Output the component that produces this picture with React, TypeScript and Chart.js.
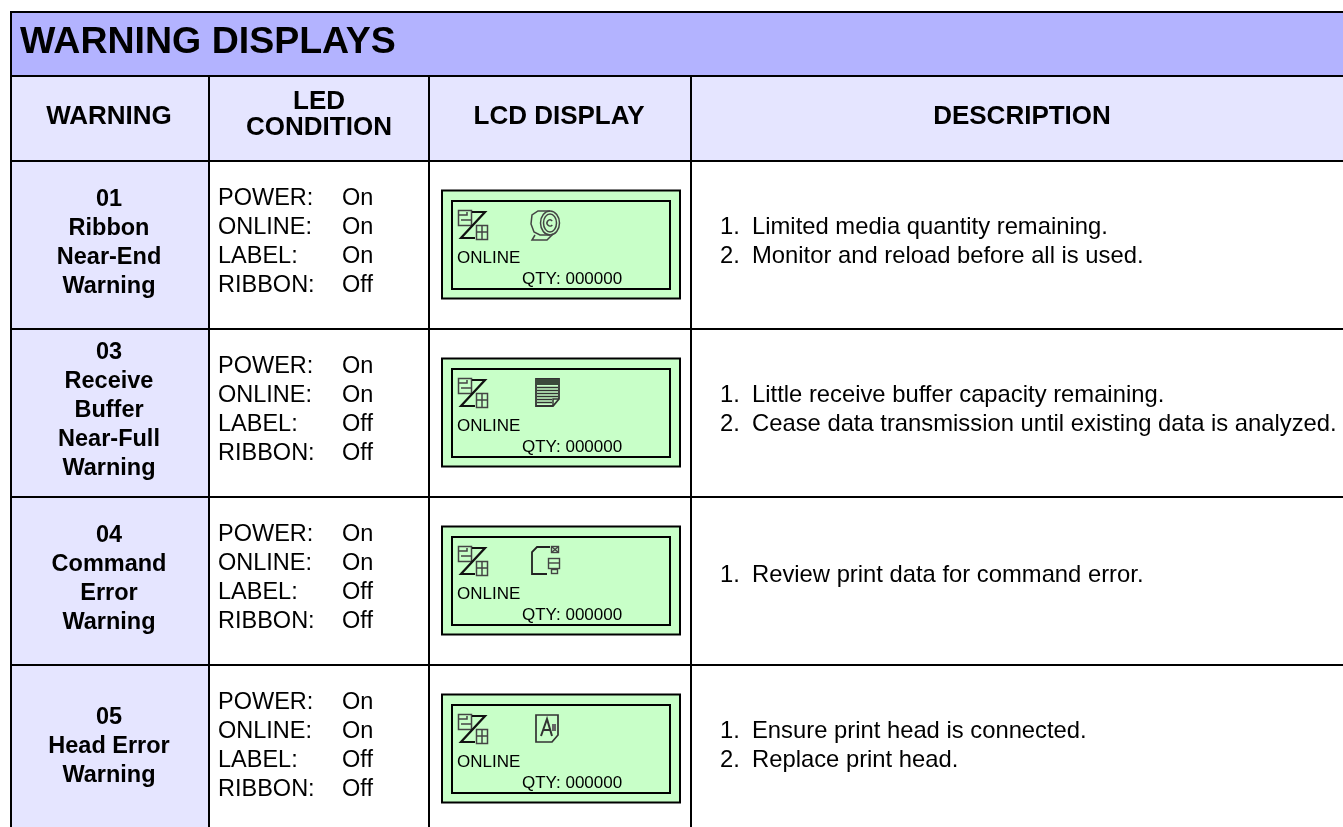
import React, { useEffect, useRef } from "react";
import { Chart, registerables } from "chart.js";

Chart.register(...registerables);

const W = 1343;
const H = 827;
const FONT = '"Liberation Sans", Arial, sans-serif';

const title = "WARNING DISPLAYS";
const columnHeaders = [["WARNING"], ["LED", "CONDITION"], ["LCD DISPLAY"], ["DESCRIPTION"]];
const warningLabels = [
  ["01", "Ribbon", "Near-End", "Warning"],
  ["03", "Receive", "Buffer", "Near-Full", "Warning"],
  ["04", "Command", "Error", "Warning"],
  ["05", "Head Error", "Warning"],
];
const ledNames = ["POWER:", "ONLINE:", "LABEL:", "RIBBON:"];
const ledStates = [
  ["On", "On", "On", "Off"],
  ["On", "On", "Off", "Off"],
  ["On", "On", "Off", "Off"],
  ["On", "On", "Off", "Off"],
];
const lcdStatus = "ONLINE";
const lcdQty = "QTY: 000000";
const descriptions = [
  ["Limited media quantity remaining.", "Monitor and reload before all is used."],
  ["Little receive buffer capacity remaining.", "Cease data transmission until existing data is analyzed."],
  ["Review print data for command error."],
  ["Ensure print head is connected.", "Replace print head."],
];
const rowLines = [160, 328, 496, 664, 832];
const columnLines = [10, 208, 428, 690, 1343];

type C = CanvasRenderingContext2D;

function line(ctx: C, pts: number[][], close = false) {
  ctx.beginPath();
  pts.forEach((p, i) => (i ? ctx.lineTo(p[0], p[1]) : ctx.moveTo(p[0], p[1])));
  if (close) ctx.closePath();
  ctx.stroke();
}

function commonIcon(ctx: C, x: number, y: number) {
  ctx.save();
  ctx.translate(x, y);
  ctx.strokeStyle = "#444";
  ctx.lineWidth = 1.5;
  ctx.strokeRect(0.5, 0.5, 13, 15);
  line(ctx, [[0.5, 5], [9, 5], [9, 2]]);
  line(ctx, [[3, 10], [13, 10]]);
  ctx.strokeRect(18.5, 15.5, 11, 14);
  line(ctx, [[24, 15], [24, 30]]);
  line(ctx, [[18, 22], [30, 22]]);
  ctx.strokeStyle = "#111";
  ctx.lineWidth = 2.2;
  line(ctx, [[14, 2], [27, 2], [3, 28], [17, 28]]);
  ctx.restore();
}

function rollIcon(ctx: C, x: number, y: number) {
  ctx.save();
  ctx.translate(x, y);
  ctx.strokeStyle = "#444";
  ctx.lineWidth = 1.5;
  ctx.beginPath();
  ctx.ellipse(20, 13, 9.5, 12, 0, 0, Math.PI * 2);
  ctx.stroke();
  ctx.beginPath();
  ctx.ellipse(20, 13, 6.5, 9, 0, 0, Math.PI * 2);
  ctx.stroke();
  line(ctx, [[20, 1], [8, 1], [2, 5], [1, 14], [4, 22], [10, 25], [20, 25]]);
  line(ctx, [[5, 25], [2, 30], [17, 30], [23, 24]]);
  ctx.beginPath();
  ctx.arc(20, 13, 3, 0.7, Math.PI * 2 - 0.7);
  ctx.stroke();
  ctx.restore();
}

function bufferIcon(ctx: C, x: number, y: number) {
  ctx.save();
  ctx.translate(x, y);
  ctx.strokeStyle = "#333";
  ctx.lineWidth = 1.8;
  line(ctx, [[1, 1], [24, 1], [24, 21], [18, 28], [1, 28]], true);
  ctx.fillStyle = "#3b4a3b";
  ctx.fillRect(1, 1, 23, 6);
  ctx.lineWidth = 1.5;
  [9.5, 12.5, 15.5, 18.5, 21.5, 24.5].forEach((v) => line(ctx, [[2, v], [v > 20 ? 17 : 23, v]]));
  line(ctx, [[18, 28], [18, 21], [24, 21]]);
  ctx.restore();
}

function commandIcon(ctx: C, x: number, y: number) {
  ctx.save();
  ctx.translate(x, y);
  ctx.strokeStyle = "#222";
  ctx.lineWidth = 1.8;
  line(ctx, [[19, 1], [6, 1], [1, 6], [1, 28], [16, 28]]);
  ctx.lineWidth = 1.4;
  ctx.strokeStyle = "#444";
  ctx.strokeRect(20.5, 0.5, 7, 6);
  line(ctx, [[20.5, 0.5], [27.5, 6.5]]);
  line(ctx, [[27.5, 0.5], [20.5, 6.5]]);
  ctx.strokeRect(17.5, 12.5, 11, 10);
  line(ctx, [[17, 17], [28, 17]]);
  ctx.strokeRect(20.5, 23.5, 6, 4);
  ctx.restore();
}

function headIcon(ctx: C, x: number, y: number) {
  ctx.save();
  ctx.translate(x, y);
  ctx.strokeStyle = "#333";
  ctx.lineWidth = 1.7;
  line(ctx, [[1, 1], [23, 1], [23, 21], [17, 28], [1, 28]], true);
  ctx.lineWidth = 2;
  line(ctx, [[6, 22], [12, 5], [17, 22]]);
  line(ctx, [[8, 16], [15, 16]]);
  ctx.fillStyle = "#666";
  ctx.fillRect(17, 10, 4, 7);
  ctx.restore();
}

const statusIcons = [rollIcon, bufferIcon, commandIcon, headIcon];
const statusIconOffsets = [89, 94, 90, 94];

const tablePlugin = {
  id: "warningTable",
  beforeDatasetsDraw(chart: Chart) {
    const ctx = chart.ctx as C;
    const sx = chart.scales.x;
    const sy = chart.scales.y;
    const X = (v: number) => sx.getPixelForValue(v);
    const Y = (v: number) => sy.getPixelForValue(v);

    const text = (s: string, x: number, y: number, font: string, align: CanvasTextAlign = "left") => {
      ctx.font = font;
      ctx.textAlign = align;
      ctx.textBaseline = "alphabetic";
      ctx.fillStyle = "#000";
      ctx.fillText(s, X(x), Y(y));
    };

    ctx.save();
    ctx.fillStyle = "#fff";
    ctx.fillRect(0, 0, W, H);

    // backgrounds
    ctx.fillStyle = "#b3b3ff";
    ctx.fillRect(X(10), Y(11), W - 10, 65);
    ctx.fillStyle = "#e5e5ff";
    ctx.fillRect(X(10), Y(76), W - 10, 85);
    ctx.fillRect(X(10), Y(161), 199, H - 161);

    // title and headers
    text(title, 20, 53, `bold 37.5px ${FONT}`);
    const centers = [109, 319, 559, 1022];
    columnHeaders.forEach((lines, i) => {
      const font = `bold 26px ${FONT}`;
      if (lines.length === 1) text(lines[0], centers[i], 124, font, "center");
      else lines.forEach((l, j) => text(l, centers[i], 109 + j * 26, font, "center"));
    });

    // rows
    warningLabels.forEach((lines, r) => {
      const top = rowLines[r];
      const mid = top + 84;
      const lh = 29;
      const start = mid - ((lines.length - 1) * lh) / 2 + 5;
      lines.forEach((l, j) => text(l, 109, start + j * lh, `bold 23.5px ${FONT}`, "center"));

      ledNames.forEach((n, j) => {
        text(n, 218, top + 45 + j * 29, `23.5px ${FONT}`);
        text(ledStates[r][j], 342, top + 45 + j * 29, `23.5px ${FONT}`);
      });

      const lx = 442;
      const ly = top + 30.5;
      ctx.fillStyle = "#c8ffc8";
      ctx.fillRect(X(lx), Y(ly), 238, 108);
      ctx.strokeStyle = "#000";
      ctx.lineWidth = 2;
      ctx.strokeRect(X(lx), Y(ly), 238, 108);
      ctx.strokeRect(X(lx + 10), Y(ly + 10.5), 218, 88);
      commonIcon(ctx, X(458), Y(top + 50));
      statusIcons[r](ctx, X(441 + statusIconOffsets[r]), Y(top + 50));
      text(lcdStatus, 457, top + 103, `17px ${FONT}`);
      text(lcdQty, 522, top + 124, `17px ${FONT}`);

      const d = descriptions[r];
      const dy = d.length === 2 ? top + 74 : top + 86;
      d.forEach((l, j) => {
        text(`${j + 1}.`, 720, dy + j * 29, `23.8px ${FONT}`);
        text(l, 752, dy + j * 29, `23.8px ${FONT}`);
      });
    });

    // grid
    ctx.fillStyle = "#000";
    [11, 75, 160].forEach((v) => ctx.fillRect(X(10), Y(v), W - 10, 2));
    rowLines.slice(1, 4).forEach((v) => ctx.fillRect(X(10), Y(v), W - 10, 2));
    ctx.fillRect(X(columnLines[0]), Y(11), 2, H - 11);
    columnLines.slice(1, 4).forEach((v) => ctx.fillRect(X(v), Y(75), 2, H - 75));
    ctx.restore();
  },
};

export default function App() {
  const ref = useRef<HTMLCanvasElement>(null);
  useEffect(() => {
    const chart = new Chart(ref.current as HTMLCanvasElement, {
      type: "scatter",
      data: {
        datasets: [
          {
            label: "rows",
            data: rowLines.map((y) => ({ x: columnLines[0], y })),
            pointRadius: 0,
          },
        ],
      },
      options: {
        animation: false,
        responsive: false,
        layout: { padding: 0 },
        plugins: { legend: { display: false }, tooltip: { enabled: false } },
        scales: {
          x: { type: "linear", min: 0, max: W, display: false },
          y: { type: "linear", min: 0, max: H, reverse: true, display: false },
        },
      },
      plugins: [tablePlugin],
    });
    return () => chart.destroy();
  }, []);
  return (
    <canvas
      ref={ref}
      width={W}
      height={H}
      style={{ position: "absolute", left: 0, top: 0, display: "block" }}
    />
  );
}
